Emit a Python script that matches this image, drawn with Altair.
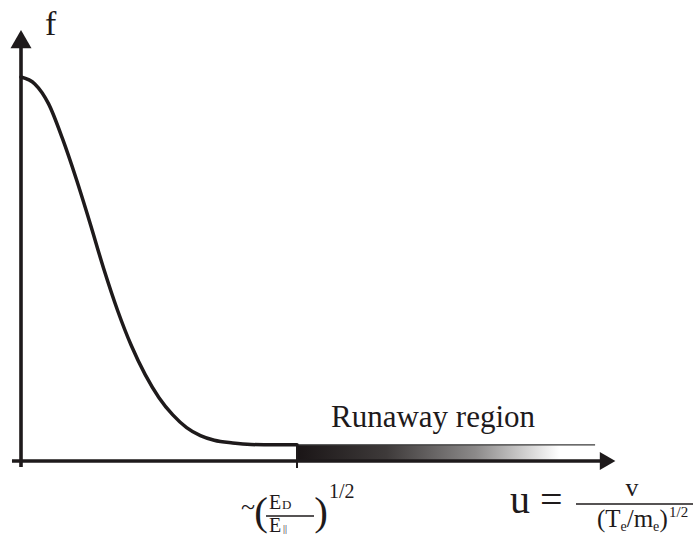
import altair as alt
import pandas as pd

INK = "#1e1a1b"
SERIF = "Liberation Serif"

# Distribution function f(u), normalised to f(0) = 1
curve_u = [0.0, 0.3, 0.6, 0.9, 1.2, 1.5, 1.8, 2.1, 2.4, 2.7, 3.0, 3.3,
           3.6, 3.9, 4.2, 4.6, 5.0, 5.5, 6.0]
curve_f = [1.0, 0.982, 0.93, 0.84, 0.735, 0.62, 0.50, 0.392, 0.30, 0.225,
           0.165, 0.12, 0.087, 0.066, 0.054, 0.047, 0.043, 0.042, 0.042]

# Runaway threshold and the extent of the runaway tail
u_threshold = 6.0
u_tail_end = 12.48
f_tail = 0.042
f_tail_floor = 0.0026

# Extents of the hand-drawn axes
x_axis_span = [-0.196, 12.65]
y_axis_span = [-0.0156, 1.0807]
x_arrow_tip = 12.752
y_arrow_tip = 1.0987
tick_depth = -0.018

xs = alt.Scale(domain=[-21 / 46, 674 / 46], nice=False, zero=False)
ys = alt.Scale(domain=[-75 / 384, 461 / 384], nice=False, zero=False)


def X(field):
    return alt.X(field, type="quantitative", scale=xs, axis=None)


def Y(field):
    return alt.Y(field, type="quantitative", scale=ys, axis=None)


def label(text, u, f, size, align="left", baseline="alphabetic"):
    return alt.Chart(pd.DataFrame({"u": [u], "f": [f]})).mark_text(
        text=text, font=SERIF, fontSize=size, align=align,
        baseline=baseline, color=INK,
    ).encode(x=X("u"), y=Y("f"))


def hline(u0, u1, f, width, color=INK):
    return alt.Chart(pd.DataFrame({"u": [u0], "u2": [u1], "f": [f]})).mark_rule(
        color=color, strokeWidth=width
    ).encode(x=X("u"), x2="u2", y=Y("f"))


def vline(u, f0, f1, width, color=INK):
    return alt.Chart(pd.DataFrame({"u": [u], "f": [f0], "f2": [f1]})).mark_rule(
        color=color, strokeWidth=width
    ).encode(x=X("u"), y=Y("f"), y2="f2")


curve_df = pd.DataFrame({"u": curve_u, "f": curve_f})
curve = alt.Chart(curve_df).mark_line(
    color=INK, strokeWidth=3.5, interpolate="monotone", strokeCap="round"
).encode(x=X("u"), y=Y("f"), order="u:Q")

# Shaded runaway band: dark at the threshold, fading out toward high u
band = alt.Chart(pd.DataFrame({
    "u": [u_threshold], "u2": [u_tail_end], "f": [f_tail_floor], "f2": [f_tail]
})).mark_rect(
    color=alt.Gradient(
        gradient="linear",
        stops=[
            alt.GradientStop(offset=0.0, color="#1a1516"),
            alt.GradientStop(offset=0.3, color="#3e3a3a"),
            alt.GradientStop(offset=0.6, color="#8c8a8a"),
            alt.GradientStop(offset=0.88, color="#ffffff"),
            alt.GradientStop(offset=1.0, color="#ffffff"),
        ],
        x1=0, x2=1, y1=0, y2=0,
    ),
    strokeWidth=0,
).encode(x=X("u"), x2="u2", y=Y("f"), y2="f2")

tail_line = hline(u_threshold, u_tail_end, f_tail, 1.3, "#3a3a3a")

x_axis = hline(x_axis_span[0], x_axis_span[1], 0, 3.4)
y_axis = vline(0, y_axis_span[0], y_axis_span[1], 3.6)
tick = vline(u_threshold, tick_depth, f_tail, 2.0)

x_arrow = alt.Chart(pd.DataFrame({"u": [x_arrow_tip], "f": [0.0]})).mark_point(
    shape="triangle-right", filled=True, size=324, color=INK, opacity=1
).encode(x=X("u"), y=Y("f"))
y_arrow = alt.Chart(pd.DataFrame({"u": [0.0], "f": [y_arrow_tip]})).mark_point(
    shape="triangle-up", filled=True, size=441, color=INK, opacity=1
).encode(x=X("u"), y=Y("f"))

labels = [
    label("f", 0.522, 1.1094, 34),
    label("Runaway region", 8.957, 0.0885, 31, align="center"),
    # threshold:  ~(E_D / E_||)^(1/2)
    label("~", 4.935, -0.1406, 26, align="center"),
    label("(", 5.217, -0.1667, 41, align="center"),
    label("E", 5.391, -0.125, 20),
    label("D", 5.674, -0.125, 13),
    hline(5.326, 6.37, -0.1432, 1.5),
    label("E", 5.391, -0.1849, 20),
    label("||", 5.696, -0.1849, 10),
    label(")", 6.522, -0.1667, 41, align="center"),
    label("1/2", 6.696, -0.0964, 20),
    # normalised velocity:  u = v / (T_e/m_e)^(1/2)
    label("u", 10.63, -0.1354, 40),
    label("=", 11.283, -0.1354, 40),
    hline(12.065, 14.609, -0.112, 1.5),
    label("v", 13.283, -0.0911, 26, align="center"),
    label("(T", 12.522, -0.1719, 25),
    label("e", 13.035, -0.1823, 14),
    label("/m", 13.17, -0.1719, 25),
    label("e", 13.74, -0.1823, 14),
    label(")", 13.88, -0.1719, 25),
    label("1/2", 14.087, -0.1458, 15),
]

chart = alt.layer(
    band, tail_line, curve, x_axis, y_axis, tick, x_arrow, y_arrow, *labels
).properties(
    width=695, height=536, padding=0, autosize=alt.AutoSizeParams(type="none"),
    background="white",
).configure_view(stroke=None)

chart.save("out.html", embed_options={"renderer": "svg", "actions": False})
